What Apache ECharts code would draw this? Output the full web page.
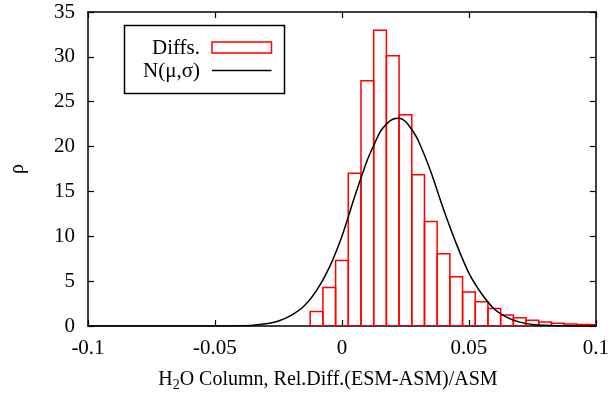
<!DOCTYPE html>
<html>
<head>
<meta charset="utf-8">
<script src="https://cdn.jsdelivr.net/npm/echarts@6/dist/echarts.min.js"></script>
<style>
html,body{margin:0;padding:0;background:#fff;}
#c{width:612px;height:397px;}
</style>
</head>
<body>
<div id="c"></div>
<script>
// Histogram bin centres and densities (bin width 0.005)
const binWidth = 0.005;
const binCenters = [-0.01, -0.005, 0, 0.005, 0.01, 0.015, 0.02, 0.025, 0.03, 0.035, 0.04, 0.045, 0.05, 0.055, 0.06, 0.065, 0.07, 0.075, 0.08, 0.085, 0.09, 0.095, 0.1];
const binHeights = [1.62, 4.28, 7.31, 17.02, 27.35, 32.96, 30.12, 23.55, 16.87, 11.66, 8.05, 5.50, 3.80, 2.69, 1.96, 1.22, 0.92, 0.63, 0.44, 0.30, 0.22, 0.18, 0.15];
// Normal curve points
const curveX = [-0.1, -0.05, -0.045, -0.04, -0.035, -0.03, -0.025, -0.02, -0.015, -0.01, -0.005, 0, 0.005, 0.01, 0.0125, 0.015, 0.0175, 0.02, 0.0225, 0.025, 0.0275, 0.03, 0.035, 0.04, 0.045, 0.05, 0.055, 0.06, 0.065, 0.07, 0.075, 0.08, 0.085, 0.09, 0.1];
const curveY = [0, 0, 0.01, 0.03, 0.09, 0.24, 0.56, 1.19, 2.2, 3.95, 6.5, 10.0, 14.4, 18.5, 20.1, 21.6, 22.5, 23.05, 23.15, 22.8, 21.9, 20.7, 17.2, 13.0, 9.2, 5.9, 3.6, 1.9, 0.97, 0.43, 0.18, 0.07, 0.03, 0.01, 0];
const xTicks = { min: -0.1, max: 0.1, interval: 0.05 };
const yTicks = { min: 0, max: 35, interval: 5 };

const FONT = 'Liberation Serif';
const chart = echarts.init(document.getElementById('c'), null, { renderer: 'canvas' });

const axisCommon = {
  axisLine: { show: true, onZero: false, lineStyle: { color: '#000', width: 1.5 } },
  axisTick: { show: true, inside: true, length: 6, lineStyle: { color: '#000', width: 1.2 } },
  splitLine: { show: false }
};

chart.setOption({
  animation: false,
  backgroundColor: '#fff',
  grid: { left: 83, right: 15, top: 12, bottom: 69, containLabel: false },
  xAxis: [
    Object.assign({
      type: 'value', min: xTicks.min, max: xTicks.max, interval: xTicks.interval,
      position: 'bottom',
      axisLabel: { color: '#000', fontFamily: FONT, fontSize: 21, margin: 12 },
      name: '{a|H}{s|2}{a|O Column, Rel.Diff.(ESM-ASM)/ASM}',
      nameLocation: 'middle', nameGap: 42,
      nameTextStyle: { padding: [0, 28, 0, 0], rich: {
        a: { fontFamily: FONT, fontSize: 20, color: '#000' },
        s: { fontFamily: FONT, fontSize: 14, color: '#000', padding: [10, 0, 0, 0] }
      } }
    }, axisCommon),
    Object.assign({
      type: 'value', min: xTicks.min, max: xTicks.max, interval: xTicks.interval,
      position: 'top', axisLabel: { show: false }
    }, axisCommon)
  ],
  yAxis: [
    Object.assign({
      type: 'value', min: yTicks.min, max: yTicks.max, interval: yTicks.interval,
      position: 'left',
      axisLabel: { color: '#000', fontFamily: FONT, fontSize: 21, margin: 13 },
      name: 'ρ', nameLocation: 'middle', nameGap: 60, nameRotate: 90,
      nameTextStyle: { fontFamily: FONT, fontSize: 20, color: '#000' }
    }, axisCommon),
    Object.assign({
      type: 'value', min: yTicks.min, max: yTicks.max, interval: yTicks.interval,
      position: 'right', axisLabel: { show: false }
    }, axisCommon)
  ],
  series: [
    {
      type: 'custom',
      xAxisIndex: 0, yAxisIndex: 0,
      clip: true,
      data: binCenters.map((c, i) => [c, binHeights[i]]),
      renderItem: function (params, api) {
        const c = api.value(0), h = api.value(1);
        const p0 = api.coord([c - binWidth / 2, h]);
        const p1 = api.coord([c + binWidth / 2, 0]);
        return {
          type: 'rect',
          shape: { x: p0[0], y: p0[1], width: p1[0] - p0[0], height: p1[1] - p0[1] },
          style: { fill: 'rgba(0,0,0,0)', stroke: '#ff0000', lineWidth: 1.5 }
        };
      },
      z: 2
    },
    {
      type: 'line',
      xAxisIndex: 0, yAxisIndex: 0,
      data: curveX.map((x, i) => [x, curveY[i]]),
      smooth: 0.3,
      showSymbol: false,
      lineStyle: { color: '#000', width: 1.5 },
      z: 3
    }
  ],
  graphic: [
    { type: 'rect', shape: { x: 124.5, y: 25.5, width: 160, height: 68 },
      style: { fill: '#fff', stroke: '#000', lineWidth: 1.5 }, z: 10 },
    { type: 'text', x: 200, y: 48,
      style: { text: 'Diffs.', fontFamily: FONT, fontSize: 21, fill: '#000', align: 'right', verticalAlign: 'middle' }, z: 11 },
    { type: 'rect', shape: { x: 212, y: 42, width: 59.5, height: 11 },
      style: { fill: '#fff', stroke: '#ff0000', lineWidth: 1.5 }, z: 11 },
    { type: 'text', x: 200, y: 71,
      style: { text: 'N(μ,σ)', fontFamily: FONT, fontSize: 21, fill: '#000', align: 'right', verticalAlign: 'middle' }, z: 11 },
    { type: 'line', shape: { x1: 212, y1: 70.5, x2: 271.5, y2: 70.5 },
      style: { stroke: '#000', lineWidth: 1.5 }, z: 11 }
  ]
});
</script>
</body>
</html>
